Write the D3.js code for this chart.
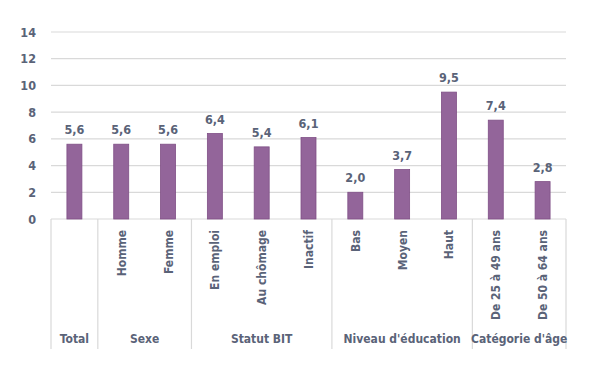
<!DOCTYPE html>
<html>
<head>
<meta charset="utf-8">
<script src="https://cdn.jsdelivr.net/npm/d3@7"></script>
<style>
  * { margin: 0; padding: 0; }
  body { background: #fff; width: 600px; height: 375px; overflow: hidden; }
  svg text { font-family: "DejaVu Sans", sans-serif; font-stretch: condensed; font-weight: bold; fill: #5a6378; }
</style>
</head>
<body>
<svg id="chart" width="600" height="375"></svg>
<script>
const categories = ["Total", "Homme", "Femme", "En emploi", "Au chômage", "Inactif", "Bas", "Moyen", "Haut", "De 25 à 49 ans", "De 50 à 64 ans"];
const values = [5.6, 5.6, 5.6, 6.4, 5.4, 6.1, 2.0, 3.7, 9.5, 7.4, 2.8];
const groups = ["Total", "Sexe", "Statut BIT", "Niveau d'éducation", "Catégorie d'âge"];
const groupSizes = [1, 2, 3, 3, 2];
const yTicks = [0, 2, 4, 6, 8, 10, 12, 14];

const svg = d3.select("#chart");
const plotLeft = 51, plotRight = 566, plotTop = 32, plotBottom = 219, lineBottom = 349;

const x = d3.scaleBand().domain(categories).range([plotLeft, plotRight]).paddingInner(0.68).paddingOuter(0.34);
const y = d3.scaleLinear().domain([0, 14]).range([plotBottom, plotTop]);

// gridlines
svg.append("g")
  .selectAll("line").data(yTicks).join("line")
  .attr("x1", plotLeft).attr("x2", plotRight)
  .attr("y1", d => y(d)).attr("y2", d => y(d))
  .attr("stroke", "#d9d9d9").attr("stroke-width", 1.2);

// y labels
svg.append("g")
  .selectAll("text").data(yTicks).join("text")
  .attr("x", 36).attr("y", d => y(d) + 4.5)
  .attr("text-anchor", "end").style("font-size", "12.5px")
  .text(d => d);

// bars
svg.append("g")
  .selectAll("rect").data(values).join("rect")
  .attr("x", (d, i) => x(categories[i]))
  .attr("width", x.bandwidth())
  .attr("y", d => y(d))
  .attr("height", d => y(0) - y(d))
  .attr("fill", "#93659a").attr("stroke", "#7f4f86").attr("stroke-width", 0.8);

// value labels
svg.append("g")
  .selectAll("text").data(values).join("text")
  .attr("x", (d, i) => x(categories[i]) + x.bandwidth() / 2)
  .attr("y", d => y(d) - 10)
  .attr("text-anchor", "middle").style("font-size", "12.5px")
  .text(d => d.toFixed(1).replace(".", ","));

// category labels rotated
svg.append("g")
  .selectAll("text").data(categories.slice(1)).join("text")
  .attr("transform", d => `translate(${x(d) + x.bandwidth() / 2 + 4.5},230) rotate(-90)`)
  .attr("text-anchor", "end").style("font-size", "12px")
  .text(d => d);

// group separators and labels
let start = 0;
const bounds = [plotLeft];
groupSizes.forEach(n => { start += n; bounds.push(plotLeft + start * (plotRight - plotLeft) / categories.length); });
svg.append("g")
  .selectAll("line").data(bounds).join("line")
  .attr("x1", d => d).attr("x2", d => d)
  .attr("y1", plotBottom).attr("y2", lineBottom)
  .attr("stroke", "#d9d9d9").attr("stroke-width", 1.2);

svg.append("g")
  .selectAll("text").data(groups).join("text")
  .attr("x", (d, i) => (bounds[i] + bounds[i + 1]) / 2)
  .attr("y", 343)
  .attr("text-anchor", "middle").style("font-size", "12px")
  .text(d => d);
</script>
</body>
</html>
